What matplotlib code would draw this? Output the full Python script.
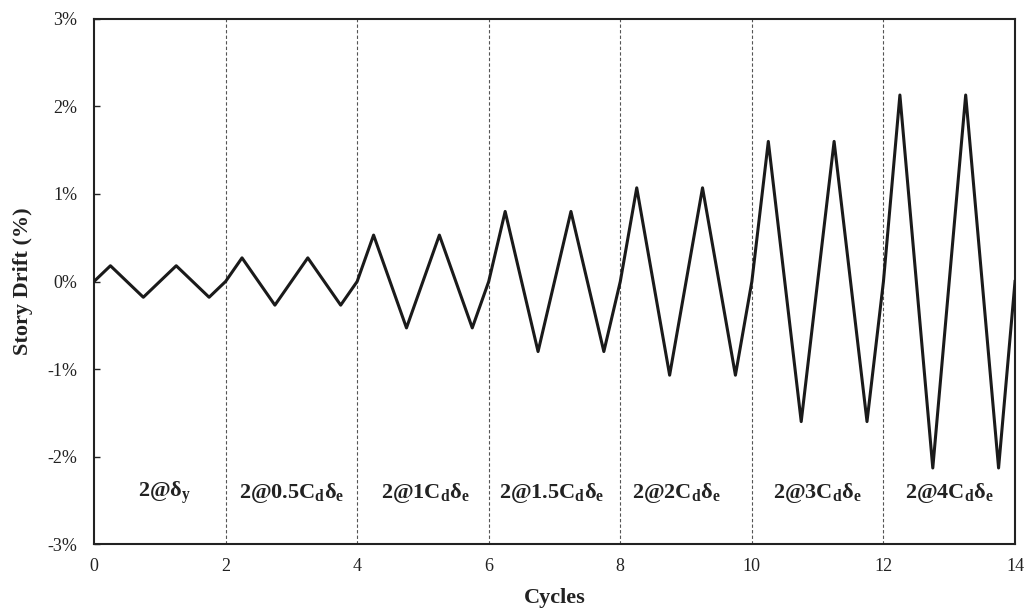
import matplotlib
matplotlib.use("Agg")
import matplotlib.pyplot as plt

# Loading protocol: two cycles at each drift amplitude (% story drift)
step_labels = [
    "2@δ$_\\mathrm{y}$",
    "2@0.5C$_\\mathrm{d}$δ$_\\mathrm{e}$",
    "2@1C$_\\mathrm{d}$δ$_\\mathrm{e}$",
    "2@1.5C$_\\mathrm{d}$δ$_\\mathrm{e}$",
    "2@2C$_\\mathrm{d}$δ$_\\mathrm{e}$",
    "2@3C$_\\mathrm{d}$δ$_\\mathrm{e}$",
    "2@4C$_\\mathrm{d}$δ$_\\mathrm{e}$",
]
step_amplitudes = [0.18, 0.27, 0.53, 0.80, 1.07, 1.60, 2.13]
cycles_per_step = 2
label_x = [1.08, 3.0, 5.03, 6.95, 8.85, 11.0, 13.0]
step_bounds = [2, 4, 6, 8, 10, 12]

plt.rcParams["font.family"] = ["Liberation Serif", "DejaVu Serif"]
plt.rcParams["mathtext.fontset"] = "custom"
plt.rcParams["mathtext.rm"] = "Liberation Serif:bold"
plt.rcParams["mathtext.it"] = "Liberation Serif:bold"
plt.rcParams["mathtext.bf"] = "Liberation Serif:bold"

# Triangular history: 0 -> +A -> 0 -> -A -> 0 for every cycle
t, d = [0.0], [0.0]
cycle = 0
for amp in step_amplitudes:
    for _ in range(cycles_per_step):
        for frac, sgn in ((0.25, 1), (0.5, 0), (0.75, -1), (1.0, 0)):
            t.append(cycle + frac)
            d.append(sgn * amp)
        cycle += 1

fig = plt.figure(figsize=(10.26, 6.08), dpi=100)
ax = fig.add_axes([0.0916, 0.105, 0.8977, 0.864])

for xb in step_bounds:
    ax.axvline(xb, color="#555555", lw=0.8, ls=(0, (3, 2)), zorder=1)

ax.plot(t, d, color="#1a1a1a", lw=2.2, zorder=3)

for x, lab in zip(label_x, step_labels):
    ax.text(x, -2.41, lab, ha="center", va="center", fontsize=16,
            fontweight="bold", color="#222222")

ax.set_xlim(0, 14)
ax.set_ylim(-3, 3)
ax.set_xticks(range(0, 15, 2))
ax.set_yticks(range(-3, 4))
ax.set_yticklabels([f"{v}%" for v in range(-3, 4)])
ax.tick_params(axis="y", direction="in", length=4, width=1, labelsize=13,
               colors="#222222", pad=12)
ax.tick_params(axis="x", length=0, labelsize=13, colors="#222222", pad=10)
for s in ax.spines.values():
    s.set_linewidth(1.5)
    s.set_color("#222222")

ax.set_xlabel("Cycles", fontsize=16, fontweight="bold", color="#222222",
              labelpad=9)
ax.set_ylabel("Story Drift (%)", fontsize=16, fontweight="bold",
              color="#222222", labelpad=10)

fig.savefig("out.png", dpi=100)
